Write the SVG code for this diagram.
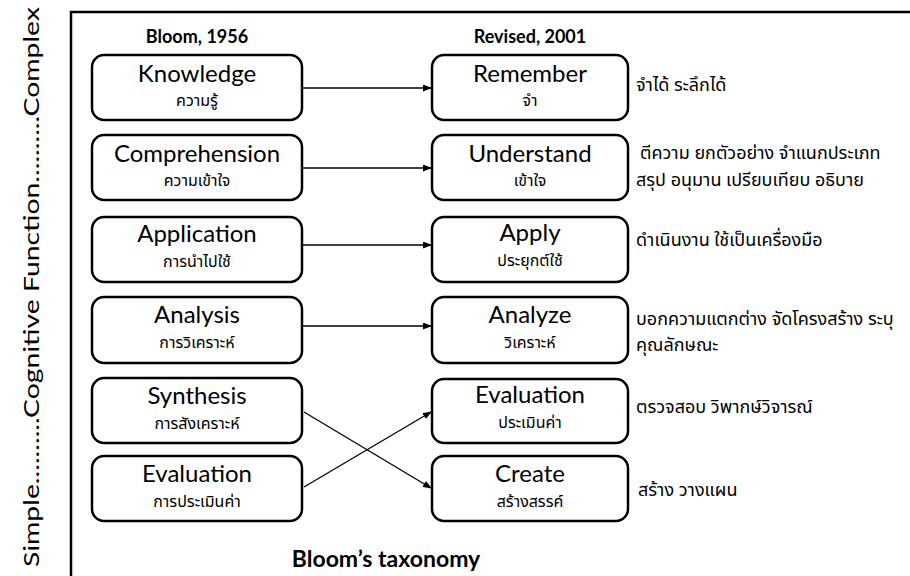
<svg xmlns="http://www.w3.org/2000/svg" width="910" height="576" viewBox="0 0 910 576">
<defs>
<marker id="ah" markerWidth="9" markerHeight="7" refX="8" refY="3.5" orient="auto" markerUnits="userSpaceOnUse">
<path d="M0,0 L9,3.5 L0,7 z" fill="#000"/>
</marker>
<style>
.box{fill:#fff;stroke:#000;stroke-width:2.5}
.t{font-family:Lato,"Noto Sans Thai","Noto Sans",sans-serif;fill:#000;text-anchor:middle}
.en{font-size:24px}
.th{font-size:16px}
.hd{font-size:18px;font-weight:bold}
.desc{font-family:"Noto Sans Thai",Lato,"Noto Sans",sans-serif;font-size:18px;fill:#000}
.c{fill:none;stroke:#000;stroke-width:1.3;marker-end:url(#ah)}
</style>
</defs>
<rect width="910" height="576" fill="#fff"/>
<path d="M71,580 V12 H915" fill="none" stroke="#000" stroke-width="2.5"/>
<text class="t" transform="translate(39,287) rotate(-90)" font-size="21" textLength="560" lengthAdjust="spacingAndGlyphs">Simple..........Cognitive Function..........Complex</text>
<text class="t hd" x="197" y="43">Bloom, 1956</text>
<text class="t hd" x="530" y="43">Revised, 2001</text>

<g id="n-knowledge"><rect class="box" x="92" y="55" width="210" height="65" rx="12"/><text class="t en" x="197" y="82">Knowledge</text><text class="t th" x="197" y="106">ความรู้</text></g>
<g id="n-comprehension"><rect class="box" x="92" y="135" width="210" height="65" rx="12"/><text class="t en" x="197" y="162">Comprehension</text><text class="t th" x="197" y="186">ความเข้าใจ</text></g>
<g id="n-application"><rect class="box" x="92" y="217" width="210" height="65" rx="12"/><text class="t en" x="197" y="242">Application</text><text class="t th" x="197" y="267">การนำไปใช้</text></g>
<g id="n-analysis"><rect class="box" x="92" y="297" width="210" height="66" rx="12"/><text class="t en" x="197" y="323">Analysis</text><text class="t th" x="197" y="348">การวิเคราะห์</text></g>
<g id="n-synthesis"><rect class="box" x="92" y="378" width="210" height="65" rx="12"/><text class="t en" x="197" y="404">Synthesis</text><text class="t th" x="197" y="429">การสังเคราะห์</text></g>
<g id="n-evaluation-old"><rect class="box" x="92" y="456" width="210" height="65" rx="12"/><text class="t en" x="197" y="482">Evaluation</text><text class="t th" x="197" y="507">การประเมินค่า</text></g>

<g id="n-remember"><rect class="box" x="432" y="55" width="196" height="65" rx="12"/><text class="t en" x="530" y="82">Remember</text><text class="t th" x="530" y="106">จำ</text></g>
<g id="n-understand"><rect class="box" x="432" y="135" width="196" height="65" rx="12"/><text class="t en" x="530" y="162">Understand</text><text class="t th" x="530" y="186">เข้าใจ</text></g>
<g id="n-apply"><rect class="box" x="432" y="217" width="196" height="65" rx="12"/><text class="t en" x="530" y="241">Apply</text><text class="t th" x="530" y="266">ประยุกต์ใช้</text></g>
<g id="n-analyze"><rect class="box" x="432" y="297" width="196" height="66" rx="12"/><text class="t en" x="530" y="323">Analyze</text><text class="t th" x="530" y="348">วิเคราะห์</text></g>
<g id="n-evaluation-new"><rect class="box" x="432" y="379" width="196" height="64" rx="12"/><text class="t en" x="530" y="403">Evaluation</text><text class="t th" x="530" y="428">ประเมินค่า</text></g>
<g id="n-create"><rect class="box" x="432" y="456" width="196" height="65" rx="12"/><text class="t en" x="530" y="482">Create</text><text class="t th" x="530" y="507">สร้างสรรค์</text></g>

<g id="descriptions">
<text class="desc" x="636" y="91">จำได้ ระลึกได้</text>
<text class="desc" x="640" y="159">ตีความ ยกตัวอย่าง จำแนกประเภท</text>
<text class="desc" x="636" y="186">สรุป อนุมาน เปรียบเทียบ อธิบาย</text>
<text class="desc" x="636" y="246">ดำเนินงาน ใช้เป็นเครื่องมือ</text>
<text class="desc" x="636" y="325">บอกความแตกต่าง จัดโครงสร้าง ระบุ</text>
<text class="desc" x="636" y="351">คุณลักษณะ</text>
<text class="desc" x="636" y="413">ตรวจสอบ วิพากษ์วิจารณ์</text>
<text class="desc" x="638" y="496">สร้าง วางแผน</text>
</g>

<g id="connectors">
<line class="c" x1="302" y1="88" x2="431" y2="88"/>
<line class="c" x1="302" y1="168" x2="431" y2="168"/>
<line class="c" x1="302" y1="245" x2="431" y2="245"/>
<line class="c" x1="302" y1="326" x2="431" y2="326"/>
<line class="c" x1="304" y1="412" x2="431" y2="488"/>
<line class="c" x1="304" y1="487" x2="431" y2="412"/>
</g>

<text class="t" x="386" y="567" font-size="23" font-weight="bold">Bloom’s taxonomy</text>
</svg>
